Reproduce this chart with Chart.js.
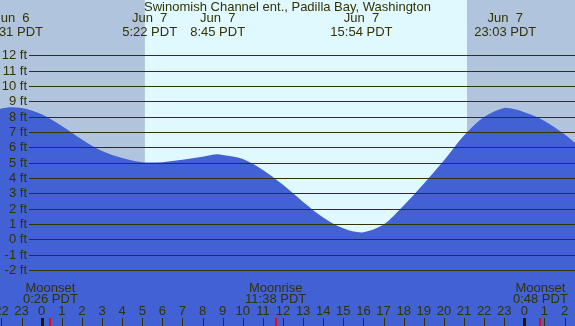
<!DOCTYPE html>
<html><head><meta charset="utf-8">
<script src="https://cdn.jsdelivr.net/npm/chart.js@4.4.1/dist/chart.umd.min.js"></script>
<style>
html,body{margin:0;padding:0;overflow:hidden;background:#e0f8ff}
#wrap{width:575px;height:326px;position:relative}
</style>
</head><body>
<div id="wrap"><canvas id="c"></canvas></div>
<script>
// ---- data (hours relative to midnight Jun 7, PDT) ----
const chartTitle = "Swinomish Channel ent., Padilla Bay, Washington";
const times   = [-3, -2, -1.5, -1, 0, 1, 2, 3, 4, 5, 5.37, 6, 7, 8, 8.75, 9, 10, 11, 12, 13, 14, 15, 15.9, 16, 17, 18, 19, 20, 21, 22, 23, 23.05, 24, 25, 26, 27];
const heights = [8.15, 8.52, 8.61, 8.56, 8.15, 7.39, 6.51, 5.75, 5.30, 5.02, 5.00, 5.03, 5.18, 5.38, 5.54, 5.50, 5.24, 4.52, 3.55, 2.44, 1.43, 0.72, 0.45, 0.46, 0.96, 2.20, 3.62, 5.14, 6.77, 7.97, 8.56, 8.57, 8.28, 7.72, 6.85, 5.75];
const yTicks = [-2, -1, 0, 1, 2, 3, 4, 5, 6, 7, 8, 9, 10, 11, 12];
const hourTicks = [-2, -1, 0, 1, 2, 3, 4, 5, 6, 7, 8, 9, 10, 11, 12, 13, 14, 15, 16, 17, 18, 19, 20, 21, 22, 23, 24, 25, 26];
const tideTimes  = [-1.483, 5.367, 8.75, 15.9, 23.05];
const tideDates  = ["Jun  6", "Jun  7", "Jun  7", "Jun  7", "Jun  7"];
const tideLabels = ["22:31 PDT", "5:22 PDT", "8:45 PDT", "15:54 PDT", "23:03 PDT"];
const sunTimes = [5.13, 21.15]; // sunrise, sunset
const moonTimes  = [0.433, 11.633, 24.8];
const moonNames  = ["Moonset", "Moonrise", "Moonset"];
const moonLabels = ["0:26 PDT", "11:38 PDT", "0:48 PDT"];

// ---- styles ----
const NIGHT = "#b0c4de", DAY = "#e0f8ff", WATER = "rgb(65,97,212)";
const INK = "#333300", FONT = "13px 'Liberation Sans', Arial, sans-serif";

const tidePlugin = {
  id: "tidePlugin",
  beforeDatasetsDraw(chart) {
    const {ctx, chartArea: a, scales: {x}} = chart;
    ctx.save();
    ctx.fillStyle = NIGHT;
    ctx.fillRect(a.left, a.top, a.right - a.left, a.bottom - a.top);
    const xs = x.getPixelForValue(sunTimes[0]), xe = x.getPixelForValue(sunTimes[1]);
    ctx.fillStyle = DAY;
    ctx.fillRect(xs, a.top, xe - xs, a.bottom - a.top);
    ctx.restore();
  },
  afterDatasetsDraw(chart) {
    const {ctx, chartArea: a, scales: {x, y}} = chart;
    ctx.save();
    // grid lines + y labels
    ctx.strokeStyle = INK; ctx.lineWidth = 1;
    ctx.fillStyle = INK; ctx.font = FONT;
    ctx.textAlign = "right"; ctx.textBaseline = "middle";
    yTicks.forEach(t => {
      const py = Math.round(y.getPixelForValue(t)) + 0.5;
      ctx.beginPath(); ctx.moveTo(29, py); ctx.lineTo(a.right, py); ctx.stroke();
      ctx.fillText(t + " ft", 27, py);
    });
    // title
    ctx.textAlign = "center";
    ctx.fillText(chartTitle, (a.left + a.right) / 2, 7);
    // tide extremes
    tideTimes.forEach((t, i) => {
      const px = x.getPixelForValue(t);
      ctx.fillText(tideDates[i], px, 18.5);
      ctx.fillText(tideLabels[i], px, 32);
    });
    // moon events
    moonTimes.forEach((t, i) => {
      const px = x.getPixelForValue(t);
      ctx.fillText(moonNames[i], px, 288);
      ctx.fillText(moonLabels[i], px, 299.5);
    });
    // hour labels + ticks
    hourTicks.forEach(h => {
      const px = x.getPixelForValue(h);
      const lab = ((h % 24) + 24) % 24;
      ctx.fillStyle = INK;
      ctx.fillText(String(lab), px, 311);
      if (lab === 0) {
        ctx.fillStyle = "#1a1a00";
        ctx.fillRect(Math.round(px) - 1, 318, 3, 8);
      } else {
        ctx.fillStyle = INK;
        ctx.fillRect(Math.round(px), 318, 1, 8);
      }
    });
    ctx.fillStyle = "#ff0000";
    moonTimes.forEach(t => {
      const px = x.getPixelForValue(t);
      ctx.fillRect(Math.round(px) - 1, 318, 2, 8);
    });
    ctx.restore();
  }
};

new Chart(document.getElementById("c"), {
  type: "line",
  data: {
    datasets: [{
      data: times.map((t, i) => ({x: t, y: heights[i]})),
      backgroundColor: WATER,
      borderColor: WATER,
      borderWidth: 0,
      pointRadius: 0,
      fill: "start",
      cubicInterpolationMode: "monotone"
    }]
  },
  options: {
    responsive: true,
    maintainAspectRatio: false,
    animation: false,
    layout: {padding: 0},
    plugins: {legend: {display: false}, title: {display: false}, tooltip: {enabled: false}},
    events: [],
    scales: {
      x: {type: "linear", display: false, min: -2.074, max: 26.52},
      y: {type: "linear", display: false, min: -5.65, max: 15.60}
    }
  },
  plugins: [tidePlugin]
});
</script>
</body></html>
